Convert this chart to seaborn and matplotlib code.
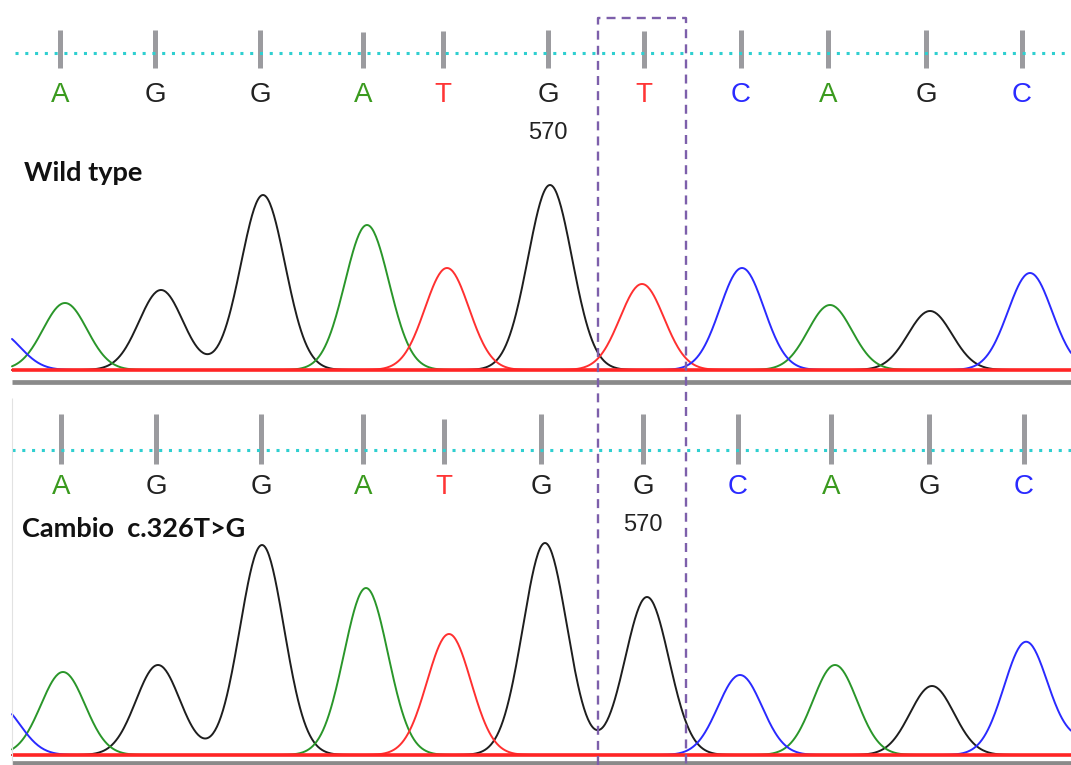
import numpy as np
import pandas as pd
import matplotlib
matplotlib.use('Agg')
import matplotlib.pyplot as plt
import seaborn as sns

# base calls: letter, scan position, quality bar height
top_calls = ['A', 'G', 'G', 'A', 'T', 'G', 'T', 'C', 'A', 'G', 'C']
top_call_pos = [60, 155, 260, 363, 443, 548, 644, 741, 828, 926, 1022]
top_call_qual = [38, 38, 38, 36, 37, 38, 37, 38, 38, 38, 38]

bot_calls = ['A', 'G', 'G', 'A', 'T', 'G', 'G', 'C', 'A', 'G', 'C']
bot_call_pos = [61, 156, 261, 363, 444, 541, 643, 738, 831, 929, 1024]
bot_call_qual = [50, 50, 50, 50, 45, 50, 50, 50, 50, 50, 50]

# chromatogram peaks (channel, scan position, amplitude)
top_peak_base = ['C', 'A', 'G', 'G', 'A', 'T', 'G', 'T', 'C', 'A', 'G', 'C']
top_peak_pos = [-2, 65, 161, 263, 367, 447, 550, 642, 742, 830, 930, 1030]
top_peak_amp = [38, 67, 80, 175, 145, 102, 185, 86, 102, 65, 59, 97]

bot_peak_base = ['C', 'A', 'G', 'G', 'A', 'T', 'G', 'G', 'C', 'A', 'G', 'C', 'C']
bot_peak_pos = [-2, 63, 158, 262, 366, 449, 545, 647, 740, 835, 932, 1026, 1088]
bot_peak_amp = [50, 83, 90, 210, 167, 121, 212, 158, 80, 90, 69, 113, 14]

position_label = '570'
SIGMA = 22

pal = {'A': '#2a962a', 'G': '#1e1e1e', 'T': '#ff3030', 'C': '#2a2aff'}
call_col = {'A': '#3a9a1e', 'G': '#222222', 'T': '#ff3535', 'C': '#2a2aff'}

W, H = 1071, 765
scan = np.arange(12, W + 1, 1.0)


def make_traces(bases, pos, amp):
    frames = []
    for b in ['G', 'A', 'T', 'C']:
        sig = np.zeros_like(scan)
        for bb, p, a in zip(bases, pos, amp):
            if bb == b:
                sig += a * np.exp(-(scan - p) ** 2 / (2 * SIGMA ** 2))
        frames.append(pd.DataFrame({'scan': scan, 'signal': sig, 'base': b}))
    return pd.concat(frames, ignore_index=True)


top_df = make_traces(top_peak_base, top_peak_pos, top_peak_amp)
bot_df = make_traces(bot_peak_base, bot_peak_pos, bot_peak_amp)

sns.set_style('white')
fig = plt.figure(figsize=(10.71, 7.65), dpi=100)


def trace_axes(baseline, top, pad):
    ax = fig.add_axes([0, (H - baseline - pad) / H, 1, (baseline - top + pad) / H])
    ax.set_xlim(0, W)
    ax.set_ylim(-pad, baseline - top)
    ax.axis('off')
    return ax


ax_top = trace_axes(370, 140, 20)
ax_bot = trace_axes(755, 500, 10)

for ax, df, sep in [(ax_top, top_df, -12), (ax_bot, bot_df, -8)]:
    sns.lineplot(data=df, x='scan', y='signal', hue='base', palette=pal,
                 hue_order=['G', 'A', 'T', 'C'], estimator=None, sort=False,
                 legend=False, linewidth=1.4, ax=ax)
    ax.hlines(0, 12, W, color='#ff2525', lw=2.6, zorder=3)
    ax.hlines(sep, 12, W, color='#8a8a8a', lw=3.4, zorder=3)

# header / annotations in pixel space
ax0 = fig.add_axes([0, 0, 1, 1])
ax0.set_xlim(0, W)
ax0.set_ylim(H, 0)
ax0.axis('off')
ax0.set_facecolor('none')

narrow = ['Liberation Sans', 'DejaVu Sans']
for calls, pos, qual, bar_bot, line_y, letter_y, x0 in [
        (top_calls, top_call_pos, top_call_qual, 68, 53, 95, 15),
        (bot_calls, bot_call_pos, bot_call_qual, 464, 450, 487, 12)]:
    ax0.vlines(pos, [bar_bot - q for q in qual], bar_bot, colors='#9b9b9f', lw=3.6)
    ax0.plot([x0, W], [line_y, line_y], color='#2fcfd0', lw=2.2,
             ls=(0, (1, 2.2)), solid_capstyle='butt')
    for c, p in zip(calls, pos):
        ax0.text(p, letter_y, c, color=call_col[c], ha='center', va='center',
                 fontsize=20, family=narrow)

ax0.text(top_call_pos[5], 133, position_label, ha='center', va='center',
         fontsize=17, family=narrow, color='#222222')
ax0.text(bot_call_pos[6], 525, position_label, ha='center', va='center',
         fontsize=17, family=narrow, color='#222222')

ax0.text(24, 173, 'Wild type', ha='left', va='center', fontsize=19.5,
         family=['Lato', 'DejaVu Sans'], weight='bold', color='#111111')
ax0.text(22, 529, 'Cambio  c.326T>G', ha='left', va='center', fontsize=19.5,
         family=['Lato', 'DejaVu Sans'], weight='bold', color='#111111')

ax0.vlines(12, 398, H, colors='#e2e2e2', lw=0.8)

# dashed box around the mutated position
ax0.plot([598, 598, 686, 686], [H, 18, 18, H], color='#7d5fab', lw=1.7,
         ls=(0, (3.8, 2.6)))

fig.savefig('out.png', dpi=100)
